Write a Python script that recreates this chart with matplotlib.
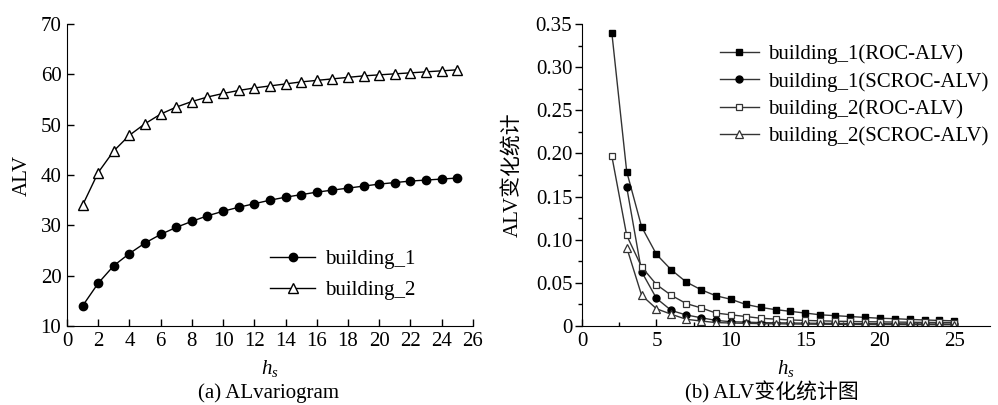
import numpy as np
import matplotlib
matplotlib.use('Agg')
import matplotlib.pyplot as plt
from matplotlib.ticker import MultipleLocator, FixedLocator, FixedFormatter

plt.rcParams['font.family'] = ['Liberation Serif', 'Noto Sans CJK SC']
plt.rcParams['mathtext.fontset'] = 'custom'
plt.rcParams['mathtext.it'] = 'Liberation Serif:italic'
plt.rcParams['mathtext.rm'] = 'Liberation Serif'

# (a) ALvariogram data
hs_a = list(range(1, 26))
building_1 = [14.0, 18.5, 22.0, 24.4, 26.5, 28.2, 29.6, 30.8, 31.9, 32.8,
              33.6, 34.3, 35.0, 35.6, 36.1, 36.6, 37.0, 37.4, 37.8, 38.2,
              38.5, 38.8, 39.0, 39.2, 39.4]
building_2 = [34.0, 40.5, 44.8, 47.9, 50.2, 52.1, 53.5, 54.6, 55.5, 56.2,
              56.8, 57.3, 57.7, 58.1, 58.5, 58.8, 59.1, 59.4, 59.7, 59.9,
              60.1, 60.3, 60.5, 60.7, 60.9]

# (b) ALV change statistics
hs_b = list(range(2, 26))
b1_roc = [0.340, 0.179, 0.115, 0.083, 0.065, 0.051, 0.042, 0.035, 0.031, 0.025,
          0.0215, 0.019, 0.017, 0.015, 0.013, 0.012, 0.011, 0.010, 0.009, 0.0085,
          0.0077, 0.007, 0.0065, 0.006]
hs_b_sc = list(range(3, 26))
b1_scroc = [0.161, 0.063, 0.032, 0.018, 0.0128, 0.0096, 0.0065, 0.005, 0.0045,
            0.004, 0.0037, 0.0035, 0.0033, 0.0031, 0.003, 0.0029, 0.0028, 0.0027, 0.0026,
            0.0025, 0.0024, 0.0023, 0.0022]
b2_roc = [0.197, 0.105, 0.0686, 0.048, 0.0355, 0.026, 0.021, 0.015, 0.013, 0.011,
          0.009, 0.008, 0.007, 0.0065, 0.006, 0.0056, 0.0053, 0.005, 0.0048, 0.0046,
          0.0044, 0.0042, 0.0041, 0.004]
b2_scroc = [0.091, 0.0357, 0.020, 0.0136, 0.0078, 0.0058, 0.004, 0.0035, 0.0031,
            0.0028, 0.0026, 0.0024, 0.0022, 0.0021, 0.002, 0.0019, 0.0018, 0.0017, 0.0017,
            0.0016, 0.0016, 0.0015, 0.0015]

fig = plt.figure(figsize=(9.98, 4.05), dpi=100)

# ---- left panel ----
ax1 = fig.add_axes([0.0671, 0.195, 0.4068, 0.7457])
ax1.plot(hs_a, building_1, color='black', lw=1.0, marker='o', ms=6,
         mfc='black', mec='black', label='building_1')
ax1.plot(hs_a, building_2, color='black', lw=1.0, marker='^', ms=6.5,
         mfc='white', mec='black', mew=1.0, label='building_2')
ax1.set_xlim(0, 26)
ax1.set_ylim(10, 70)
ax1.xaxis.set_major_locator(MultipleLocator(2))
ax1.yaxis.set_major_locator(MultipleLocator(10))
ax1.spines['top'].set_visible(False)
ax1.spines['right'].set_visible(False)
ax1.tick_params(direction='in', length=5, width=1, labelsize=15, pad=4)
ax1.set_ylabel('ALV', fontsize=15, labelpad=6)
ax1.set_xlabel('$h_s$', fontsize=15, labelpad=5)
ax1.legend(loc='upper left', bbox_to_anchor=(0.48, 0.28), frameon=False,
           fontsize=15, handlelength=2.15, handletextpad=0.48, labelspacing=0.55,
           borderaxespad=0)
fig.text(0.269, 0.03, '(a) ALvariogram', ha='center', va='center', fontsize=15)

# ---- right panel ----
ax2 = fig.add_axes([0.5832, 0.195, 0.4088, 0.7457])
ax2.plot(hs_b, b1_roc, color='#333333', lw=1.0, marker='s', ms=4.5,
         mfc='black', mec='black', label='building_1(ROC-ALV)')
ax2.plot(hs_b_sc, b1_scroc, color='#333333', lw=1.0, marker='o', ms=5,
         mfc='black', mec='black', label='building_1(SCROC-ALV)')
ax2.plot(hs_b, b2_roc, color='#333333', lw=1.0, marker='s', ms=5,
         mfc='white', mec='#333333', mew=0.9, label='building_2(ROC-ALV)')
ax2.plot(hs_b_sc, b2_scroc, color='#333333', lw=1.0, marker='^', ms=5.5,
         mfc='white', mec='#333333', mew=0.9, label='building_2(SCROC-ALV)')
ax2.set_xlim(0, 27.4)
ax2.set_ylim(0, 0.35)
ax2.xaxis.set_major_locator(MultipleLocator(5))
ax2.xaxis.set_minor_locator(MultipleLocator(2.5))
yt = [0, 0.05, 0.10, 0.15, 0.20, 0.25, 0.30, 0.35]
ax2.yaxis.set_major_locator(FixedLocator(yt))
ax2.yaxis.set_major_formatter(FixedFormatter(['0'] + ['%.2f' % v for v in yt[1:]]))
ax2.yaxis.set_minor_locator(MultipleLocator(0.025))
ax2.spines['top'].set_visible(False)
ax2.spines['right'].set_visible(False)
ax2.tick_params(axis='x', which='major', direction='in', length=5, width=1,
                labelsize=15, pad=4)
ax2.tick_params(axis='x', which='minor', direction='in', length=3, width=1)
ax2.tick_params(axis='y', which='major', direction='out', length=5, width=1,
                labelsize=15, pad=2)
ax2.tick_params(axis='y', which='minor', direction='out', length=3, width=1)
ax2.set_ylabel('ALV变化统计', fontsize=15, labelpad=9)
ax2.set_xlabel('$h_s$', fontsize=15, labelpad=5)
ax2.legend(loc='upper left', bbox_to_anchor=(0.317, 0.96), frameon=False,
           fontsize=15, handlelength=1.9, handletextpad=0.43,
           labelspacing=0.37, borderaxespad=0)
fig.text(0.773, 0.03, '(b) ALV变化统计图', ha='center', va='center', fontsize=15)

fig.savefig('out.png', dpi=100)
